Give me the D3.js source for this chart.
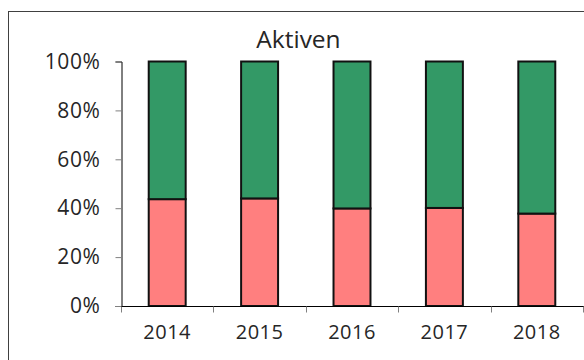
<!DOCTYPE html>
<html>
<head>
<meta charset="utf-8">
<script src="https://cdn.jsdelivr.net/npm/d3@7"></script>
<style>
  html, body { margin: 0; padding: 0; background: #fff; }
  svg { display: block; }
  text { font-family: "Open Sans", "Noto Sans", sans-serif; fill: #262626; }
</style>
</head>
<body>
<svg id="chart" width="584" height="360"></svg>
<script>
// Share of total assets per year (red = lower segment, green = remainder)
const years = ["2014", "2015", "2016", "2017", "2018"];
const lowerShare = [0.437, 0.440, 0.399, 0.401, 0.378];
const upperShare = lowerShare.map(v => 1 - v);
const yTicks = [0, 0.2, 0.4, 0.6, 0.8, 1.0];
const seriesColors = ["#FF7F7F", "#339966"];

const svg = d3.select("#chart");

// outer frame
svg.append("rect")
  .attr("x", 8.5).attr("y", 11.5)
  .attr("width", 600).attr("height", 400)
  .attr("fill", "none").attr("stroke", "#404040").attr("stroke-width", 1);

const x = d3.scaleBand().domain(years).range([121, 583]).paddingInner(0.6).paddingOuter(0.3);
const y = d3.scaleLinear().domain([0, 1]).range([306, 61.5]);

const rows = years.map((yr, i) => ({ year: yr, lower: lowerShare[i], upper: upperShare[i] }));
const stack = d3.stack().keys(["lower", "upper"])(rows);

// bars
svg.append("g").selectAll("g")
  .data(stack)
  .join("g")
  .attr("fill", (d, i) => seriesColors[i])
  .selectAll("rect")
  .data(d => d)
  .join("rect")
  .attr("x", d => x(d.data.year))
  .attr("width", x.bandwidth())
  .attr("y", d => y(d[1]))
  .attr("height", d => y(d[0]) - y(d[1]))
  .attr("stroke", "#111")
  .attr("stroke-width", 2);

// y axis
const yAxis = svg.append("g")
  .attr("transform", "translate(121.5,0)")
  .call(d3.axisLeft(y).tickValues(yTicks).tickFormat(d3.format(".0%")).tickSize(6).tickPadding(15));
yAxis.select(".domain").attr("stroke", "#000");
yAxis.selectAll(".tick line").attr("stroke", "#808080");
yAxis.selectAll(".tick text")
  .style("font-size", "21px")
  .style("letter-spacing", "0.6px")
  .attr("fill", "#262626");

// x axis with ticks on category boundaries
const xAxisG = svg.append("g").attr("transform", "translate(0,306.5)");
xAxisG.append("line")
  .attr("x1", 121).attr("x2", 584).attr("stroke", "#000");
const step = x.step();
const bounds = d3.range(years.length + 1).map(i => 121 + i * step);
xAxisG.selectAll("line.tk").data(bounds).join("line")
  .attr("class", "tk")
  .attr("x1", d => Math.round(d) + 0.5).attr("x2", d => Math.round(d) + 0.5)
  .attr("y1", 0).attr("y2", 6).attr("stroke", "#808080");
xAxisG.selectAll("text").data(years).join("text")
  .attr("x", d => x(d) + x.bandwidth() / 2)
  .attr("y", 32.5)
  .attr("text-anchor", "middle")
  .style("font-size", "20px")
  .style("letter-spacing", "0.5px")
  .text(d => d);

// title
svg.append("text")
  .attr("x", 298.5).attr("y", 48)
  .attr("text-anchor", "middle")
  .style("font-size", "24.5px")
  .attr("fill", "#000")
  .text("Aktiven");
</script>
</body>
</html>
